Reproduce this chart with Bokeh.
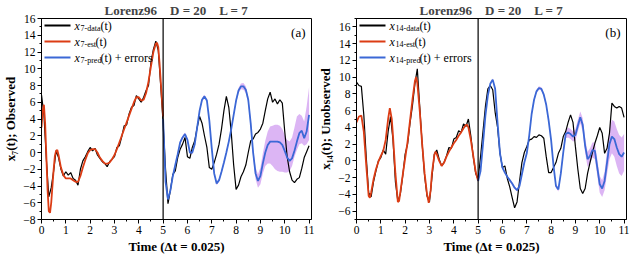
import numpy as np
from bokeh.plotting import figure
from bokeh.layouts import row
from bokeh.models import Range1d, SingleIntervalTicker, Span, Label, BoxAnnotation
from bokeh.embed import file_html
from bokeh.resources import INLINE

# ---------------- data ----------------
t_data = np.round(np.arange(0, 111) * 0.1, 2)
t_pred = np.round(5.0 + np.arange(0, 61) * 0.1, 2)

# panel (a): x7, observed
a_data = [6.9, 4.5, -0.8, -5.3, -4.2, -2.2, 0.2, -0.6, -2.0, -2.8,
          -2.3, -2.7, -2.4, -3.1, -3.3, -3.9, -2.0, -1.0, -0.5, 0.1,
          0.6, 0.2, 0.5, -0.3, -0.7, -1.1, -1.3, -1.7, -1.1, -0.8,
          -0.5, 0.6, 0.8, 1.9, 3.2, 3.3, 4.6, 5.4, 5.6, 6.8,
          6.4, 6.0, 6.6, 7.4, 8.0, 10.8, 12.3, 13.3, 12.2, 8.0,
          3.5, -2.0, -6.1, -4.5, -2.6, -2.2, -0.6, 0.4, 1.0, 1.8,
          -0.5, -0.7, 0.6, 1.4, 3.0, 4.3, 3.5, 2.0, 0.6, -1.8,
          -2.0, -1.2, -0.2, 1.0, 2.8, 5.0, 6.7, 5.4, 2.4, -1.5,
          -4.4, -3.9, -2.9, -2.3, -1.5, 0.0, 1.4, 1.6, 2.2, 2.4,
          2.8, 3.5, 5.0, 6.4, 7.2, 6.0, 6.4, 5.8, 6.3, 5.9,
          2.5, -0.5, -2.3, -3.3, -3.6, -3.2, -3.0, -1.9, -0.6, 0.1,
          0.8]
a_est_t = [0.0, 0.05, 0.1, 0.15, 0.2, 0.25, 0.3, 0.35, 0.4, 0.45, 0.5, 0.55, 0.6, 0.65,
           0.7, 0.8, 0.9, 1.0, 1.1, 1.2, 1.3, 1.4, 1.5, 1.6, 1.7, 1.8, 1.9, 2.0, 2.1,
           2.2, 2.3, 2.4, 2.5, 2.6, 2.7, 2.8, 2.9, 3.0, 3.1, 3.2, 3.3, 3.4, 3.5, 3.6,
           3.7, 3.8, 3.9, 4.0, 4.1, 4.2, 4.3, 4.4, 4.5, 4.6, 4.7, 4.75, 4.8, 4.85,
           4.9, 5.0]
a_est = [3.0, 5.0, 5.7, 3.5, -0.5, -4.5, -7.0, -7.2, -6.0, -4.0, -2.0, -0.4, 0.2, 0.3,
         -0.3, -1.8, -2.7, -3.1, -3.1, -3.1, -3.3, -3.5, -3.5, -2.8, -1.8, -0.9, -0.1, 0.3, 0.4,
         0.4, 0.0, -0.6, -1.0, -1.3, -1.35, -1.2, -0.8, -0.3, 0.4, 1.2, 2.0, 2.8, 3.6, 4.4,
         5.2, 6.0, 6.6, 6.6, 6.2, 6.3, 7.1, 8.5, 10.3, 12.0, 13.0, 13.1, 12.6, 10.8,
         8.6, 4.3]
a_pred = [4.0, -3.5, -5.6, -4.5, -2.8, -1.5, -0.2, 1.2, 1.8, 2.2,
          1.5, 0.0, 0.0, 1.0, 3.0, 5.0, 6.3, 6.7, 6.2, 3.8,
          0.5, -2.5, -3.7, -3.3, -2.3, -1.2, 0.0, 1.3, 2.8, 4.5,
          6.2, 7.4, 7.9, 7.9, 7.5, 6.3, 3.5, 0.0, -2.5, -3.4,
          -2.8, -1.3, 0.0, 0.9, 1.3, 1.3, 1.3, 1.3, 1.2, 0.9,
          0.2, -0.6, -1.0, -0.7, 0.2, 1.3, 2.3, 2.6, 1.7, 2.5,
          4.5]
a_err_lo = [0.2, 0.3, 0.3, 0.2, 0.2, 0.2, 0.2, 0.2, 0.2, 0.2,
            0.2, 0.2, 0.2, 0.2, 0.2, 0.2, 0.2, 0.2, 0.2, 0.2,
            0.2, 0.2, 0.2, 0.2, 0.2, 0.2, 0.2, 0.2, 0.2, 0.2,
            0.25, 0.3, 0.35, 0.4, 0.4, 0.4, 0.5, 0.6, 0.7, 0.8,
            1.0, 1.2, 1.6, 2.2, 2.6, 2.9, 3.3, 3.5, 3.5, 3.2,
            2.6, 1.8, 1.2, 0.9, 0.7, 1.0, 1.3, 1.5, 0.9, 1.5,
            3.0]
a_err_hi = [0.2, 0.3, 0.3, 0.2, 0.2, 0.2, 0.2, 0.2, 0.2, 0.2,
            0.2, 0.2, 0.2, 0.2, 0.2, 0.2, 0.2, 0.2, 0.2, 0.2,
            0.2, 0.2, 0.2, 0.2, 0.2, 0.2, 0.2, 0.2, 0.2, 0.2,
            0.25, 0.3, 0.35, 0.4, 0.4, 0.4, 0.5, 0.6, 0.7, 0.8,
            1.0, 1.2, 1.4, 1.6, 1.8, 1.9, 2.0, 2.0, 2.0, 1.9,
            1.9, 2.1, 2.3, 2.5, 2.8, 3.0, 2.3, 1.8, 2.0, 3.0,
            3.3]

# panel (b): x14, unobserved
b_data = [9.4, 9.0, 8.9, 5.5, 0.5, -3.8, -4.3, -2.5, -1.2, 0.0,
          0.4, 1.3, 0.8, 3.5, 5.3, 2.5, -2.5, -4.8, -4.0, -1.8,
          0.8, 2.0, 4.5, 6.6, 9.2, 11.0, 6.5, 2.0, -1.8, -4.2,
          -4.9, -2.0, 0.8, 1.3, 0.2, -0.6, -0.2, 0.6, 1.6, 1.5,
          2.6, 2.8, 3.6, 3.4, 4.4, 4.1, 5.0, 3.0, 0.5, -1.5,
          -2.2, 0.5, 3.5, 6.5, 8.6, 9.0, 8.5, 5.8, 4.0, 0.9,
          -0.8, -0.6, -2.1, -3.1, -4.4, -5.6, -4.9, -2.5, -0.2, 1.0,
          1.7, 2.5, 2.6, 2.9, 2.8, 3.1, 3.0, 2.7, 0.5, -1.4,
          -1.4, -0.8, -0.2, 0.9, 1.5, 2.9, 3.5, 4.6, 5.5, 4.6,
          1.7, -1.0, -3.3, -3.9, -3.3, -1.5, -0.2, 1.0, 2.1, 3.0,
          4.0, 3.3, 0.9, 1.5, 3.3, 6.9, 6.5, 6.3, 6.5, 6.3,
          5.2]
b_est_t = [0.0, 0.1, 0.2, 0.3, 0.4, 0.5, 0.55, 0.6, 0.7, 0.8, 0.9, 1.0, 1.1, 1.2,
           1.3, 1.37, 1.45, 1.5, 1.6, 1.7, 1.75, 1.8, 1.9, 2.0, 2.1, 2.2, 2.3, 2.4,
           2.45, 2.5, 2.6, 2.7, 2.8, 2.9, 2.97, 3.05, 3.1, 3.2, 3.25, 3.3, 3.4, 3.5,
           3.6, 3.7, 3.8, 3.9, 4.0, 4.1, 4.2, 4.3, 4.4, 4.5, 4.55, 4.6, 4.7, 4.8,
           4.9, 5.0]
b_est = [4.6, 5.3, 5.4, 3.5, -0.5, -4.2, -4.4, -3.8, -2.2, -1.0, -0.1, 0.6, 1.2, 2.5,
         5.0, 6.3, 5.0, 3.0, -1.5, -4.9, -4.8, -3.8, -1.7, 0.3, 2.3, 4.8, 7.3, 9.5,
         10.0, 9.3, 6.0, 2.0, -1.5, -4.0, -5.0, -3.5, -1.5, 0.7, 1.1, 0.8, 0.0, -0.6,
         -0.2, 0.5, 1.1, 1.6, 2.1, 2.5, 3.0, 3.4, 3.9, 4.3, 4.3, 4.0, 2.5, 0.6,
         -1.3, -2.4]
b_pred = [-2.4, -1.2, 2.0, 5.4, 7.8, 9.2, 9.7, 8.6, 4.5, 0.9,
          -0.8, -1.4, -1.9, -2.3, -2.7, -3.2, -3.5, -3.0, -1.6, -0.2,
          0.9, 3.0, 5.6, 7.3, 8.3, 8.7, 8.6, 7.9, 6.7, 4.8,
          2.5, -0.6, -3.0, -3.4, -1.5, 1.0, 3.2, 3.4, 3.2, 2.9,
          3.1, 4.2, 5.2, 4.3, 1.8, 0.2, 0.6, 1.3, 1.2, -0.8,
          -2.8, -3.3, -2.4, -0.2, 2.0, 2.9, 2.6, 1.6, 0.8, 0.5,
          1.0]
b_err = [0.15, 0.15, 0.15, 0.15, 0.15, 0.15, 0.15, 0.15, 0.15, 0.15,
         0.15, 0.15, 0.15, 0.15, 0.15, 0.15, 0.15, 0.15, 0.15, 0.15,
         0.2, 0.2, 0.2, 0.2, 0.2, 0.2, 0.2, 0.2, 0.2, 0.2,
         0.2, 0.2, 0.25, 0.25, 0.3, 0.3, 0.5, 0.6, 0.6, 0.6,
         0.7, 0.7, 0.7, 0.8, 0.9, 0.9, 0.9, 0.9, 1.0, 1.0,
         1.0, 1.0, 1.1, 1.4, 1.8, 2.0, 2.1, 2.2, 2.3, 2.3,
         2.2]

SP = "\u2002\u2002"
TITLE = "Lorenz96" + SP + "D = 20" + SP + "L = 7"
XLABEL = "Time (\u0394t = 0.025)"

BLACK = "#000000"
RED = "#dc3c14"
BLUE = "#3b68d6"
BAND = "#d6a8f2"
SERIF = "Liberation Serif"

FW, FH = 270, 201


def make_panel(tag, ylabel, yr, data, est_t, est, pred, lo, hi, leg_names, left_pad):
    p = figure(frame_width=FW, frame_height=FH, x_range=Range1d(0, 11.1),
               y_range=Range1d(*yr), output_backend="svg", toolbar_location=None,
               min_border_left=left_pad, min_border_right=4, min_border_top=0,
               min_border_bottom=0, background_fill_color="white",
               border_fill_color="white")
    p.grid.visible = False
    p.outline_line_color = "black"
    p.outline_line_width = 1
    p.outline_line_alpha = 1

    p.title.text = TITLE
    p.title.align = "center"
    p.title.text_font = SERIF
    p.title.text_font_size = "13px"
    p.title.text_font_style = "bold"
    p.title.standoff = 1

    p.xaxis.ticker = SingleIntervalTicker(interval=1, num_minor_ticks=2)
    p.yaxis.ticker = SingleIntervalTicker(interval=2, num_minor_ticks=2)
    for ax in (p.xaxis, p.yaxis):
        ax.axis_line_color = "black"
        ax.major_tick_line_color = "black"
        ax.minor_tick_line_color = "black"
        ax.major_tick_out = 4
        ax.major_tick_in = 0
        ax.minor_tick_out = 2
        ax.minor_tick_in = 0
        ax.major_label_text_font = SERIF
        ax.major_label_text_font_size = "11.5px"
        ax.major_label_text_color = "black"
        ax.major_label_standoff = 2
        ax.axis_label_text_font = SERIF
        ax.axis_label_text_font_size = "13px"
        ax.axis_label_text_font_style = "bold"
        ax.axis_label_text_color = "black"
        ax.axis_label_standoff = 2
    p.xaxis.axis_label = XLABEL
    p.yaxis.axis_label = ylabel

    tp = np.array(t_pred)
    pr = np.array(pred)
    p.varea(x=tp, y1=pr - np.array(lo), y2=pr + np.array(hi), fill_color=BAND, fill_alpha=0.85)
    p.line(t_data, data, line_color=BLACK, line_width=1.2)
    p.line(est_t, est, line_color=RED, line_width=1.8)
    p.line(tp, pr, line_color=BLUE, line_width=1.8)
    p.add_layout(Span(location=5, dimension="height", line_color="black", line_width=1.2))

    # legend, drawn in screen units relative to the frame
    rows = [(7, BLACK, leg_names[0], ""), (23, RED, leg_names[1], ""),
            (39, BLUE, leg_names[2], " + errors")]
    for off, col, (sub, subw), extra in rows:
        yc = FH - off
        p.add_layout(BoxAnnotation(left=3, right=29, top=yc + 1, bottom=yc - 1,
                                   left_units="screen", right_units="screen",
                                   top_units="screen", bottom_units="screen",
                                   fill_color=col, fill_alpha=1, line_color=None))
        x0 = 33
        p.add_layout(Label(x=x0, y=yc, x_units="screen", y_units="screen", text="x",
                           text_font=SERIF, text_font_style="italic", text_font_size="12px",
                           text_baseline="middle", text_color="black"))
        p.add_layout(Label(x=x0 + 6, y=yc - 3, x_units="screen", y_units="screen", text=sub,
                           text_font=SERIF, text_font_size="8px",
                           text_baseline="middle", text_color="black"))
        p.add_layout(Label(x=x0 + 6 + subw, y=yc, x_units="screen", y_units="screen",
                           text="(t)" + extra, text_font=SERIF, text_font_size="12px",
                           text_baseline="middle", text_color="black"))

    p.add_layout(Label(x=FW - 6, y=FH - 14, x_units="screen", y_units="screen", text=tag,
                       text_font=SERIF, text_font_size="13px", text_align="right",
                       text_baseline="middle", text_color="black"))
    return p


pa = make_panel("(a)", "x\u2087(t); Observed", (-8, 16), a_data, a_est_t, a_est,
                a_pred, a_err_lo, a_err_hi,
                [("7-data", 20), ("7-est", 15), ("7-pred", 20)], 30)
pb = make_panel("(b)", "x\u2081\u2084(t); Unobserved", (-7, 17), b_data, b_est_t, b_est,
                b_pred, b_err, b_err,
                [("14-data", 24), ("14-est", 19), ("14-pred", 24)], 30)

layout = row(pa, pb)
open("out.html", "w").write(file_html(layout, INLINE))
